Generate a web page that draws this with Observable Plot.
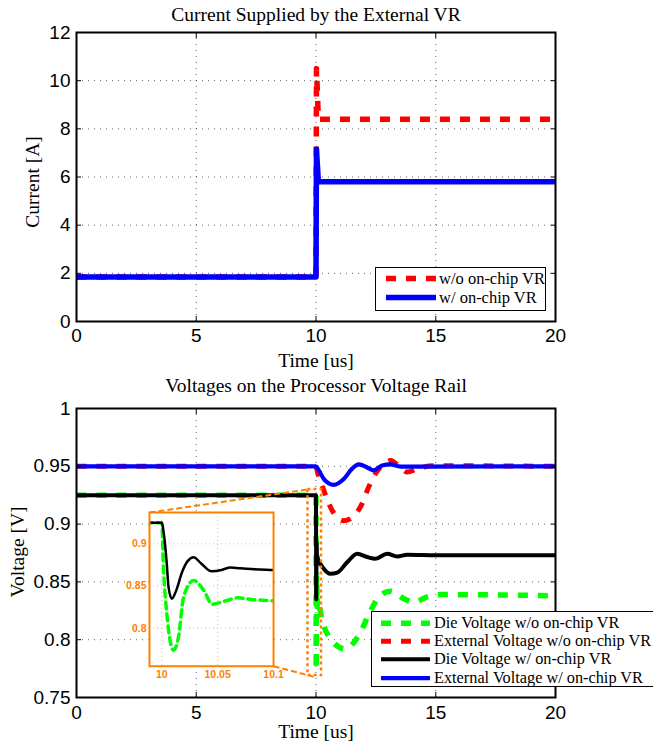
<!DOCTYPE html>
<html>
<head>
<meta charset="utf-8">
<script src="https://cdn.jsdelivr.net/npm/d3@7"></script>
<script src="https://cdn.jsdelivr.net/npm/@observablehq/plot@0.6"></script>
<style>
  html, body { margin: 0; padding: 0; background: #fff; }
  #wrap { position: relative; width: 653px; height: 742px; overflow: hidden; background: #fff; }
  .serif { font-family: "Liberation Serif", "Times New Roman", serif; font-weight: normal; color: #000; position: absolute; white-space: nowrap; }
</style>
</head>
<body>
<div id="wrap"></div>
<script>
// ---------------- data ----------------
const timeTicks = [0, 5, 10, 15, 20];
const currentTicks = [0, 2, 4, 6, 8, 10, 12];
const voltageTicks = [0.75, 0.8, 0.85, 0.9, 0.95, 1];
const insetTimeTicks = [10, 10.05, 10.1];
const insetVoltageTicks = [0.8, 0.85, 0.9];

// top chart: current supplied by the external VR [A] vs time [us]
const currentTime = [0, 10, 10.02, 10.1, 20];
const currentWithout = [1.85, 1.85, 10.5, 8.4, 8.4];
const currentWith = [1.85, 1.85, 7.15, 5.8, 5.8];
const topNames = ["w/o on-chip VR", "w/ on-chip VR"];

// bottom chart: voltages [V] vs time [us]
const dieWoT = [0, 10, 10.0015, 10.0045, 10.0105, 10.015, 10.0195, 10.0285, 10.0375, 10.045, 10.0585, 10.0675, 10.08, 10.1, 10.26, 10.6, 11.23, 11.79, 12.28, 12.62, 13.11, 13.67, 14.08, 14.64, 15.2, 20];
const dieWoV = [0.925, 0.925, 0.872, 0.817, 0.774, 0.790, 0.837, 0.8565, 0.845, 0.8285, 0.833, 0.836, 0.834, 0.8325, 0.8166, 0.801, 0.792, 0.804, 0.825, 0.837, 0.842, 0.8355, 0.8325, 0.837, 0.839, 0.838];

const extWoT = [0, 10, 10.05, 10.33, 10.67, 11.16, 11.58, 11.93, 12.2, 12.48, 12.83, 13.11, 13.53, 13.81, 14.23, 14.92, 20];
const extWoV = [0.95, 0.95, 0.946, 0.929, 0.912, 0.903, 0.907, 0.918, 0.932, 0.9435, 0.952, 0.955, 0.949, 0.945, 0.948, 0.9505, 0.95];

const dieWT = [0, 10, 10.0015, 10.0045, 10.006, 10.009, 10.013, 10.018, 10.0235, 10.0285, 10.035, 10.0445, 10.0535, 10.0615, 10.07, 10.08, 10.1, 10.3, 10.6, 10.89, 11.3, 11.72, 12.14, 12.48, 12.97, 13.39, 13.81, 15, 20];
const dieWV = [0.925, 0.925, 0.915, 0.876, 0.849, 0.835, 0.845, 0.866, 0.880, 0.884, 0.877, 0.8675, 0.869, 0.872, 0.871, 0.870, 0.869, 0.862, 0.857, 0.858, 0.867, 0.8743, 0.8715, 0.870, 0.8743, 0.872, 0.8734, 0.873, 0.873];

const extWT = [0, 10, 10.12, 10.33, 10.74, 11.16, 11.51, 11.79, 12.14, 12.41, 12.76, 13.11, 13.53, 20];
const extWV = [0.95, 0.95, 0.9464, 0.939, 0.934, 0.939, 0.948, 0.9516, 0.949, 0.9464, 0.9507, 0.9516, 0.9498, 0.95];

const bottomNames = ["Die Voltage w/o on-chip VR", "External Voltage w/o on-chip VR", "Die Voltage w/ on-chip VR", "External Voltage w/ on-chip VR"];

// zoom annotation (data coordinates of the main voltage chart)
const zoomSpanT = [9.665, 10.23];
const zoomSpanV = [0.769, 0.93];
const insetSpanT = [3.05, 8.23];
const insetSpanV = [0.777, 0.910];
const insetDomainT = [9.989, 10.1];
const insetDomainV = [0.755, 0.937];

// ---------------- styles ----------------
const ORANGE = "#ff8000";
const sansFont = "'Liberation Sans', Arial, Helvetica, sans-serif";
const serifFont = "'Liberation Serif', 'Times New Roman', serif";
const topStyles = [
  {stroke: "#ff0000", strokeWidth: 5.5, strokeDasharray: "10,10"},
  {stroke: "#0000ff", strokeWidth: 5.5}
];
const bottomStyles = [
  {stroke: "#00ff00", strokeWidth: 5.5, strokeDasharray: "10,10"},
  {stroke: "#ff0000", strokeWidth: 5, strokeDasharray: "10,10"},
  {stroke: "#000000", strokeWidth: 4},
  {stroke: "#0000ff", strokeWidth: 4.2}
];

const rows = (t, v) => t.map((x, i) => ({t: x, v: v[i]}));
const fmt = d => String(+d.toFixed(2));

const wrap = document.getElementById("wrap");
function place(el, left, top) {
  el.style.position = "absolute";
  el.style.left = left + "px";
  el.style.top = top + "px";
  wrap.appendChild(el);
}
function label(text, cx, cy, size, rotate) {
  const d = document.createElement("div");
  d.className = "serif";
  d.textContent = text;
  d.style.fontFamily = serifFont;
  d.style.fontWeight = "normal";
  d.style.width = "400px";
  d.style.height = "26px";
  d.style.lineHeight = "26px";
  d.style.textAlign = "center";
  d.style.fontSize = size + "px";
  d.style.left = (cx - 200) + "px";
  d.style.top = (cy - 13) + "px";
  if (rotate) d.style.transform = "rotate(-90deg)";
  wrap.appendChild(d);
}
function legend(names, styles, left, top, width, height, rowH, pad, swX, swW, txtX, size) {
  const box = document.createElement("div");
  box.style.cssText = `position:absolute;left:${left}px;top:${top}px;width:${width}px;height:${height}px;border:1px solid #000;background:#fff;box-sizing:border-box;`;
  names.forEach((n, i) => {
    const r = document.createElement("div");
    r.style.cssText = `position:absolute;left:0;top:${pad + i * rowH}px;height:${rowH}px;width:${width + 100}px;`;
    const ns = "http://www.w3.org/2000/svg";
    const svg = document.createElementNS(ns, "svg");
    svg.setAttribute("width", swW + 2);
    svg.setAttribute("height", rowH);
    svg.style.cssText = `position:absolute;left:${swX}px;top:0;`;
    const ln = document.createElementNS(ns, "line");
    ln.setAttribute("x1", 0); ln.setAttribute("x2", swW);
    ln.setAttribute("y1", rowH / 2); ln.setAttribute("y2", rowH / 2);
    ln.setAttribute("stroke", styles[i].stroke);
    ln.setAttribute("stroke-width", styles[i].strokeWidth);
    if (styles[i].strokeDasharray) ln.setAttribute("stroke-dasharray", styles[i].strokeDasharray);
    svg.appendChild(ln);
    r.appendChild(svg);
    const t = document.createElement("div");
    t.className = "serif";
    t.textContent = n;
    t.style.cssText += `left:${txtX}px;top:0;height:${rowH}px;line-height:${rowH}px;font-size:${size}px;font-family:${serifFont};`;
    r.appendChild(t);
    box.appendChild(r);
  });
  wrap.appendChild(box);
}

function frameMarks(xt, yt, xPad, yPad) {
  const gridOpts = {stroke: "#000", strokeOpacity: 0.6, strokeWidth: 1, strokeDasharray: "1,5"};
  return {
    grid: [Plot.gridX(xt, gridOpts), Plot.gridY(yt, gridOpts)],
    axes: [
      Plot.axisX(xt, {anchor: "bottom", tickSize: -5, tickPadding: xPad, label: null, tickFormat: fmt, fontSize: 19}),
      Plot.axisX(xt, {anchor: "top", tickSize: -5, label: null, tickFormat: () => ""}),
      Plot.axisY(yt, {anchor: "left", tickSize: -5, tickPadding: yPad, label: null, tickFormat: fmt, fontSize: 19}),
      Plot.axisY(yt, {anchor: "right", tickSize: -5, label: null, tickFormat: () => ""}),
      Plot.frame({stroke: "#000", strokeWidth: 2})
    ]
  };
}

// ---------------- top chart ----------------
const f1 = frameMarks(timeTicks, currentTicks, 12, 11);
const p1 = Plot.plot({
  width: 653, height: 370,
  marginTop: 32, marginBottom: 49, marginLeft: 76, marginRight: 98,
  style: {fontFamily: sansFont, fontSize: "19px", background: "white", color: "#000"},
  x: {domain: [0, 20]},
  y: {domain: [0, 12]},
  marks: [
    ...f1.grid,
    Plot.line(rows(currentTime, currentWithout), {x: "t", y: "v", ...topStyles[0], strokeLinecap: "butt"}),
    Plot.line(rows(currentTime, currentWith), {x: "t", y: "v", ...topStyles[1], strokeLinecap: "butt"}),
    ...f1.axes
  ]
});
place(p1, 0, 0);

// ---------------- bottom chart ----------------
const B_TOP = 370;
const f2 = frameMarks(timeTicks, voltageTicks, 13, 11);
const bottomSeries = [[dieWoT, dieWoV], [extWoT, extWoV], [dieWT, dieWV], [extWT, extWV]];
const p2 = Plot.plot({
  width: 653, height: 372,
  marginTop: 38, marginBottom: 45, marginLeft: 76, marginRight: 98,
  style: {fontFamily: sansFont, fontSize: "19px", background: "white", color: "#000"},
  x: {domain: [0, 20]},
  y: {domain: [0.75, 1]},
  marks: [
    ...f2.grid,
    ...bottomSeries.map(([t, v], i) => Plot.line(rows(t, v), {x: "t", y: "v", ...bottomStyles[i], curve: "monotone-x", strokeLinecap: "butt", clip: true})),
    Plot.rect([0], {x1: () => zoomSpanT[0], x2: () => zoomSpanT[1], y1: () => zoomSpanV[0], y2: () => zoomSpanV[1], fill: "none", stroke: ORANGE, strokeWidth: 2.5, strokeDasharray: "3,3"}),
    Plot.link([
      {t1: insetSpanT[0], v1: insetSpanV[1], t2: zoomSpanT[0], v2: zoomSpanV[1]},
      {t1: insetSpanT[1], v1: insetSpanV[0], t2: 9.9, v2: zoomSpanV[0] - 0.001}
    ], {x1: "t1", y1: "v1", x2: "t2", y2: "v2", stroke: ORANGE, strokeWidth: 2, strokeDasharray: "6,3"}),
    ...f2.axes
  ]
});
place(p2, 0, B_TOP);

// ---------------- inset ----------------
const xs = p2.scale("x"), ys = p2.scale("y");
const iL = xs.apply(insetSpanT[0]), iR = xs.apply(insetSpanT[1]);
const iT = ys.apply(insetSpanV[1]), iB = ys.apply(insetSpanV[0]);
const iML = 48, iMR = 16, iMT = 4, iMB = 22;
const p3 = Plot.plot({
  width: iML + (iR - iL) + iMR, height: iMT + (iB - iT) + iMB,
  marginLeft: iML, marginRight: iMR, marginTop: iMT, marginBottom: iMB,
  style: {fontFamily: sansFont, background: "transparent", overflow: "visible"},
  x: {domain: insetDomainT},
  y: {domain: insetDomainV},
  marks: [
    Plot.frame({fill: "white", stroke: "none"}),
    Plot.gridX(insetTimeTicks, {stroke: ORANGE, strokeOpacity: 0.6, strokeDasharray: "1,3"}),
    Plot.gridY(insetVoltageTicks, {stroke: ORANGE, strokeOpacity: 0.6, strokeDasharray: "1,3"}),
    Plot.line(rows(dieWoT, dieWoV), {x: "t", y: "v", stroke: bottomStyles[0].stroke, strokeWidth: 3.5, strokeDasharray: "7,5", curve: "monotone-x", clip: true}),
    Plot.line(rows(dieWT, dieWV), {x: "t", y: "v", stroke: "#000", strokeWidth: 2.5, curve: "monotone-x", clip: true}),
    Plot.axisX(insetTimeTicks, {anchor: "bottom", tickSize: 0, tickPadding: 4, label: null, tickFormat: fmt, color: ORANGE, fontWeight: "bold", fontSize: 10.5}),
    Plot.axisY(insetVoltageTicks, {anchor: "left", tickSize: 0, tickPadding: 3, label: null, tickFormat: fmt, color: ORANGE, fontWeight: "bold", fontSize: 10.5}),
    Plot.frame({stroke: ORANGE, strokeWidth: 2})
  ]
});
place(p3, iL - iML, B_TOP + iT - iMT);

// ---------------- titles, labels, legends ----------------
label("Current Supplied by the External VR", 316, 15, 19.5);
label("Time [us]", 316, 361, 19.5);
label("Current [A]", 33, 182, 19.5, true);
label("Voltages on the Processor Voltage Rail", 316, 386, 19.5);
label("Time [us]", 316, 732, 19.5);
label("Voltage [V]", 18, 552, 19.5, true);

legend(topNames, topStyles, 375, 267, 171, 44, 19, 1, 10, 50, 63, 16.5);
legend(bottomNames, bottomStyles, 371, 611, 290, 76, 18.4, 1.5, 9, 49, 62, 16.3);
</script>
</body>
</html>
